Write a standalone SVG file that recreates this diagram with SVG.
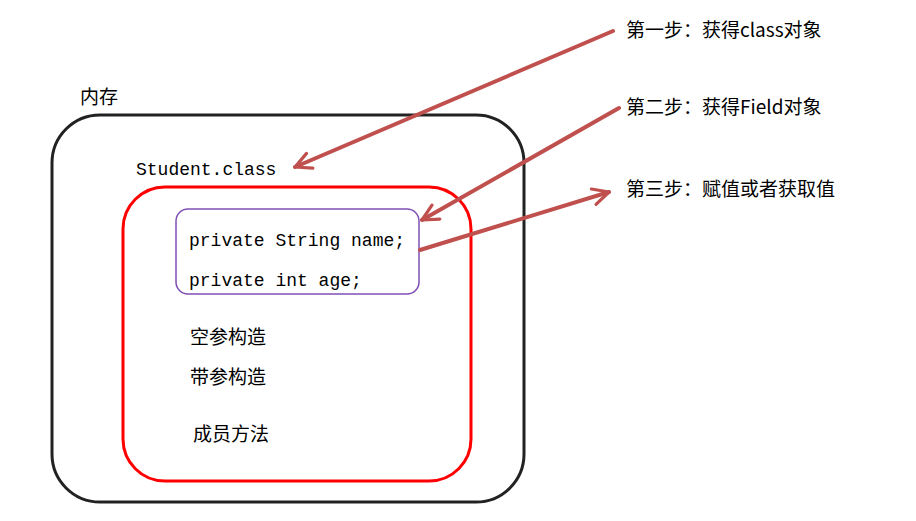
<svg xmlns="http://www.w3.org/2000/svg" width="916" height="521" viewBox="0 0 916 521">
<defs>
<style>
.cn{font-family:"Noto Sans CJK SC",sans-serif;font-size:19px;fill:#000}
.mono{font-family:"Liberation Mono","DejaVu Sans Mono",monospace;font-size:18px;fill:#000}
.arr{stroke:#c0504d;stroke-width:4;fill:none;stroke-linecap:round;marker-end:url(#v)}
</style>
<marker id="v" viewBox="0 0 10 10" refX="9" refY="5" markerWidth="5" markerHeight="5" orient="auto" markerUnits="strokeWidth">
<path d="M1,1 L9,5 L1,9" fill="none" stroke="#c0504d" stroke-width="1.6" stroke-linecap="round" stroke-linejoin="round"/>
</marker>
</defs>
<rect width="916" height="521" fill="#fff"/>
<g id="memory">
<text class="cn" x="80" y="104">内存</text>
<rect x="52" y="115" width="472" height="387" rx="48" fill="none" stroke="#222" stroke-width="3"/>
<text class="mono" x="136" y="175">Student.class</text>
</g>
<g id="class">
<rect x="123" y="187" width="348" height="294" rx="42" fill="none" stroke="#ff0000" stroke-width="3"/>
<text class="cn" x="190" y="344">空参构造</text>
<text class="cn" x="190" y="384">带参构造</text>
<text class="cn" x="193" y="441">成员方法</text>
</g>
<g id="fields">
<rect x="176" y="209" width="243" height="85" rx="12" fill="none" stroke="#7f4fb5" stroke-width="1.5"/>
<text class="mono" x="189" y="246">private String name;</text>
<text class="mono" x="189" y="286">private int age;</text>
</g>
<g id="steps">
<text class="cn" x="626" y="37">第一步：获得class对象</text>
<text class="cn" x="626" y="114">第二步：获得Field对象</text>
<text class="cn" x="626" y="196">第三步：赋值或者获取值</text>
</g>
<g id="connectors">
<line class="arr" x1="613" y1="31" x2="295" y2="167"/>
<line class="arr" x1="619" y1="108" x2="422" y2="220"/>
<line class="arr" x1="420" y1="250" x2="609" y2="192"/>
</g>
</svg>
